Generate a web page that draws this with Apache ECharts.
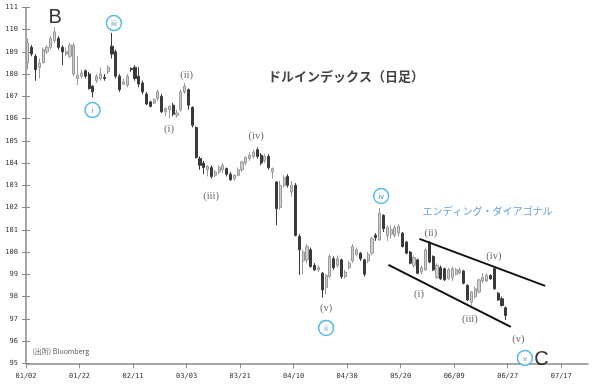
<!DOCTYPE html>
<html><head><meta charset="utf-8">
<script src="https://cdn.jsdelivr.net/npm/echarts@6/dist/echarts.min.js"></script>
<style>html,body{margin:0;padding:0;background:#fff}#c{width:604px;height:387px}</style>
</head><body><div id="c"></div>
<script>
// x tick labels (every 14 trading days)
const tickLabels = ['01/02','01/22','02/11','03/03','03/21','04/10','04/30','05/20','06/09','06/27','07/17'];
const tickStep = 14;
const slotCount = 147;

// daily candles
const opens = [108.5,109.2,108.8,108.3,108.5,109.0,109.2,109.5,109.6,109.2,
108.9,108.8,108.0,107.8,107.9,108.15,108.0,107.45,107.7,107.8,
107.85,108.1,109.25,109.0,107.9,107.55,107.5,108.25,108.3,107.9,
107.6,107.1,106.75,106.7,106.9,107.0,106.3,106.4,106.6,106.15,
106.4,107.2,107.3,106.5,105.6,104.2,104.0,103.7,103.8,103.45,
103.6,103.7,103.75,103.5,103.3,103.45,103.7,104.0,104.2,104.3,
104.6,104.35,104.1,104.3,103.6,103.15,102.0,103.0,103.4,102.7,
103.0,100.7,99.6,99.65,100.1,99.4,99.2,99.05,98.4,98.9,
99.7,99.4,99.65,98.9,99.3,99.6,99.9,99.95,99.65,99.6,
99.95,100.75,100.55,101.65,100.75,100.8,100.75,100.85,100.85,100.45,
100.0,99.4,99.65,99.1,99.2,100.4,99.8,98.85,99.3,99.25,
98.8,98.85,99.0,99.05,99.15,98.5,97.75,98.0,98.2,98.7,
98.7,98.95,99.25,98.15,97.9,97.5];
const closes = [109.4,108.9,108.2,108.5,109.1,109.2,109.6,109.9,109.2,109.0,
109.0,109.3,109.3,107.95,108.05,107.9,107.35,107.2,107.9,108.0,
107.8,108.3,108.9,107.9,107.3,107.65,107.9,108.2,107.8,107.55,
107.2,106.65,106.55,106.85,107.2,106.3,106.45,106.55,106.2,106.25,
107.2,107.45,106.6,105.7,104.25,103.9,103.8,103.85,103.4,103.6,
103.8,103.9,103.5,103.25,103.45,103.7,104.05,104.25,104.35,104.5,
104.3,104.0,104.3,103.8,103.75,101.95,103.0,103.35,103.0,103.0,
100.75,100.1,100.0,100.25,99.35,99.2,99.3,98.3,98.95,99.8,
99.3,99.7,98.9,99.1,99.5,100.25,100.1,99.7,99.0,99.9,
100.6,100.65,101.75,101.05,101.1,101.0,101.1,101.15,100.25,99.95,
99.5,99.75,99.05,99.3,100.1,99.55,99.2,99.4,98.8,98.75,
99.2,99.25,99.2,99.2,98.6,97.85,98.2,98.35,98.75,98.85,
98.95,98.8,98.35,97.85,97.6,97.15];
const lows = [108.2,108.8,107.7,107.8,108.5,108.9,109.1,109.4,109.1,108.4,
108.8,108.7,107.9,107.5,107.8,107.8,107.3,106.95,107.6,107.7,
107.7,108.0,108.7,107.8,107.2,107.5,107.4,108.1,107.7,107.4,
107.1,106.6,106.5,106.65,106.8,106.25,106.1,106.0,106.1,106.05,
106.3,107.1,106.4,105.6,104.2,103.7,103.5,103.4,103.3,103.35,
103.5,103.55,103.4,103.2,103.2,103.4,103.6,103.9,104.1,104.2,
104.2,103.9,104.0,103.7,103.3,101.2,101.9,102.9,102.9,102.5,
100.7,98.97,99.0,99.5,99.3,99.15,99.1,97.95,98.1,98.8,
99.2,99.3,98.8,98.8,99.2,99.5,99.8,99.6,98.9,99.5,
99.85,100.5,100.5,100.9,100.5,100.6,100.65,100.7,100.2,99.9,
99.45,99.3,99.0,99.0,99.15,99.5,99.15,98.8,98.75,98.7,
98.75,98.7,98.95,99.0,98.55,97.8,97.6,97.9,98.15,98.6,
98.65,98.75,98.3,97.8,97.55,96.95];
const highs = [109.6,109.3,108.9,108.7,109.2,109.3,109.7,110.1,109.7,109.3,
109.2,109.4,109.4,108.8,108.2,108.2,108.1,107.5,108.0,108.3,
108.0,108.4,109.85,109.1,108.0,107.8,108.0,108.3,108.4,108.3,
107.7,107.2,106.8,106.9,107.3,107.1,106.5,106.6,106.7,106.4,
107.3,107.6,107.35,106.55,105.65,104.3,104.1,103.9,103.9,103.7,
103.9,104.0,103.8,103.6,103.5,103.8,104.1,104.3,104.5,104.6,
104.7,104.45,104.4,104.4,103.8,103.2,103.2,103.45,103.5,103.2,
103.1,100.8,100.1,100.35,100.2,99.5,99.4,99.1,99.0,99.9,
99.8,99.85,99.7,99.2,99.6,100.35,100.2,100.0,99.7,100.0,
100.7,100.85,101.97,101.7,101.2,101.2,101.2,101.25,100.9,100.5,
100.05,99.85,99.7,99.4,100.2,100.5,99.85,99.5,99.4,99.3,
99.3,99.35,99.3,99.3,99.2,98.55,98.25,98.45,98.8,99.05,
99.05,99.0,99.35,98.2,98.0,97.55];

// annotations (x in trading-day units, y in index units)
const waveLabels = [
  {t:'(i)',x:37.4,y:105.53},{t:'(ii)',x:42.0,y:107.96},{t:'(iii)',x:48.4,y:102.52},
  {t:'(iv)',x:60.2,y:105.22},{t:'(v)',x:78.5,y:97.49},
  {t:'(i)',x:102.8,y:98.11},{t:'(ii)',x:105.9,y:100.86},{t:'(iii)',x:116.1,y:96.99},
  {t:'(iv)',x:122.4,y:99.82},{t:'(v)',x:128.8,y:96.09}
];
const circled = [
  {t:'ⅰ',x:17.4,y:106.38},{t:'ⅲ',x:23.0,y:110.29},{t:'ⅱ',x:78.5,y:96.59},
  {t:'ⅳ',x:92.9,y:102.52},{t:'ⅴ',x:130.5,y:95.24}
];
const bigLetters = [{t:'B',x:7.6,y:110.56},{t:'C',x:134.8,y:95.15}];
const channelUpper = [[102.9,100.59],[135.8,98.48]];
const channelLower = [[94.8,99.42],[126.8,96.64]];
const titleText = {t:'ドルインデックス（日足）',x:83.7,y:107.91};
const diagText = {t:'エンディング・ダイアゴナル',x:120.7,y:101.82};
const sourceText = {t:'(出所) Bloomberg',x:1.57,y:95.53};

const slotLabels = Array.from({length:slotCount+1},(_,i)=> i%tickStep===0 ? (tickLabels[i/tickStep]||'') : '');
const candleCats = Array.from({length:slotCount},(_,i)=>String(i));
const candleData = opens.map((o,i)=>[o,closes[i],lows[i],highs[i]]);

const textItem = (d, label) => ({value:[d.x,d.y], symbolSize:1, itemStyle:{color:'transparent'}, label:Object.assign({show:true, position:'inside', formatter:d.t}, label)});

const chart = echarts.init(document.getElementById('c'), null, {renderer:'canvas'});
chart.setOption({
  animation:false,
  backgroundColor:'#fff',
  grid:{left:26, right:16, top:7.3, bottom:23.7, containLabel:false},
  xAxis:[
    {type:'category', data:slotLabels, boundaryGap:false, gridIndex:0,
     axisLine:{lineStyle:{color:'#8a8a8a', width:1.5}},
     axisTick:{interval:tickStep-1, length:5, lineStyle:{color:'#8a8a8a'}},
     axisLabel:{interval:tickStep-1, fontSize:7, color:'#333', margin:9, fontFamily:'DejaVu Sans Mono'},
     splitLine:{show:false}},
    {type:'category', data:candleCats, boundaryGap:true, show:false, gridIndex:0},
    {type:'value', min:0, max:slotCount, show:false, gridIndex:0}
  ],
  yAxis:[
    {type:'value', min:95, max:111, interval:1,
     axisLine:{show:true, lineStyle:{color:'#8a8a8a', width:1.5}},
     axisTick:{show:true, length:4, lineStyle:{color:'#8a8a8a'}},
     axisLabel:{fontSize:7, color:'#333', margin:8, fontFamily:'DejaVu Sans Mono'},
     splitLine:{show:false}},
    {type:'value', min:95, max:111, interval:1, position:'left',
     axisLine:{show:false}, axisLabel:{show:false}, splitLine:{show:false},
     axisTick:{show:true, inside:true, length:4, lineStyle:{color:'#8a8a8a'}}}
  ],
  series:[
    {type:'candlestick', xAxisIndex:1, yAxisIndex:0, data:candleData, barWidth:2.6,
     itemStyle:{color:'#cfcfcf', color0:'#3a3a3a', borderColor:'#9a9a9a', borderColor0:'#3a3a3a', borderWidth:1}},
    {type:'line', xAxisIndex:2, yAxisIndex:0, data:channelUpper, symbol:'none', lineStyle:{color:'#111', width:2}, silent:true},
    {type:'line', xAxisIndex:2, yAxisIndex:0, data:channelLower, symbol:'none', lineStyle:{color:'#111', width:2}, silent:true},
    {type:'scatter', xAxisIndex:2, yAxisIndex:0, clip:false, silent:true,
     data:[].concat(
       waveLabels.map(d=>textItem(d,{fontSize:10.5, color:'#444', fontFamily:'Liberation Serif'})),
       bigLetters.map(d=>textItem(d,{fontSize:20, color:'#000', fontFamily:'Liberation Sans'})),
       [textItem(titleText,{fontSize:13, color:'#111', fontWeight:'bold', fontFamily:'Noto Sans CJK JP'}),
        textItem(diagText,{fontSize:10, color:'#3a8bd0', fontFamily:'Noto Sans CJK JP'}),
        textItem(sourceText,{fontSize:7, color:'#333', fontFamily:'Noto Sans CJK JP', position:'right', distance:0})]
     )},
    {type:'scatter', xAxisIndex:2, yAxisIndex:0, clip:false, silent:true, symbol:'circle', symbolSize:15,
     itemStyle:{color:'#fff', borderColor:'#2aaae2', borderWidth:1.5},
     label:{show:true, position:'inside', fontSize:7, color:'#2f6db5', fontFamily:'Noto Sans CJK JP', formatter:p=>circled[p.dataIndex].t},
     data:circled.map(d=>[d.x,d.y])}
  ]
});
</script>
</body></html>
